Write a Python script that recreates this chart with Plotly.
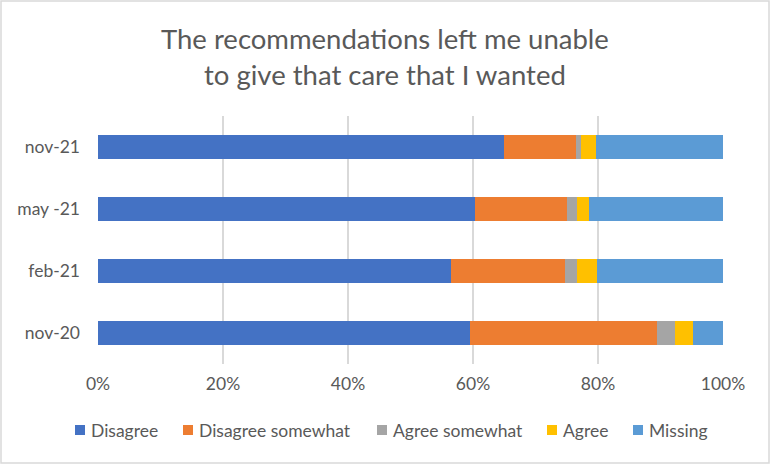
import plotly.graph_objects as go

categories = ["nov-20", "feb-21", "may -21", "nov-21"]
series_names = ["Disagree", "Disagree somewhat", "Agree somewhat", "Agree", "Missing"]
disagree = [59.5, 56.5, 60.3, 65.0]
disagree_somewhat = [29.9, 18.2, 14.7, 11.5]
agree_somewhat = [2.9, 2.0, 1.6, 0.8]
agree = [2.9, 3.1, 1.9, 2.4]
missing = [4.8, 20.2, 21.5, 20.3]
colors = ["#4472C4", "#ED7D31", "#A5A5A5", "#FFC000", "#5B9BD5"]
title_text = "The recommendations left me unable<br>to give that care that I wanted"

FONT = "Lato, sans-serif"
TXT = "#595959"
FS = 17.5

fig = go.Figure()
for name, vals, col in zip(series_names,
                           [disagree, disagree_somewhat, agree_somewhat, agree, missing],
                           colors):
    fig.add_trace(go.Bar(
        y=categories, x=[v / 100 for v in vals], name=name, orientation="h",
        marker=dict(color=col, line=dict(width=0)), showlegend=False,
    ))

W, H = 770, 464
ml, mr, mt, mb = 98, 47, 116, 100
pw, ph = W - ml - mr, H - mt - mb


def px_x(x):
    return (x - ml) / pw


def px_y(y):
    return (H - mb - y) / ph


annotations = [dict(text=title_text, x=px_x(385), xref="paper", y=px_y(56), yref="paper",
                    xanchor="center", yanchor="middle", showarrow=False, align="center",
                    font=dict(size=27.5, color=TXT, family=FONT))]

shapes = [dict(type="rect", xref="paper", yref="paper",
               x0=px_x(1), x1=px_x(W - 1), y0=px_y(H - 1), y1=px_y(1),
               line=dict(color="#d9d9d9", width=1.5), layer="below")]

legend_text_x = [89, 197, 391, 561, 647]
legend_y = 430
for name, col, tx in zip(series_names, colors, legend_text_x):
    annotations.append(dict(text=name, x=px_x(tx), xref="paper", y=px_y(legend_y), yref="paper",
                            xanchor="left", yanchor="middle", showarrow=False,
                            font=dict(size=FS, color=TXT, family=FONT)))
    shapes.append(dict(type="rect", xref="paper", yref="paper",
                       x0=px_x(tx - 14), x1=px_x(tx - 4),
                       y0=px_y(legend_y + 5), y1=px_y(legend_y - 5),
                       fillcolor=col, line=dict(width=0)))

fig.update_layout(
    width=W, height=H,
    barmode="stack", bargap=0.61,
    margin=dict(l=ml, r=mr, t=mt, b=mb),
    paper_bgcolor="white", plot_bgcolor="white",
    font=dict(family=FONT, color=TXT, size=FS),
    showlegend=False,
    xaxis=dict(range=[0, 1], tickformat=".0%", dtick=0.2, showgrid=True,
               gridcolor="#d9d9d9", gridwidth=1.5, zeroline=False, showline=False,
               ticks="", tickfont=dict(size=FS, color=TXT), ticklabelstandoff=7),
    yaxis=dict(showgrid=False, showline=False, ticks="", zeroline=False,
               tickfont=dict(size=FS, color=TXT), ticklabelstandoff=17),
    annotations=annotations,
    shapes=shapes,
)

fig.write_html("out.html")
